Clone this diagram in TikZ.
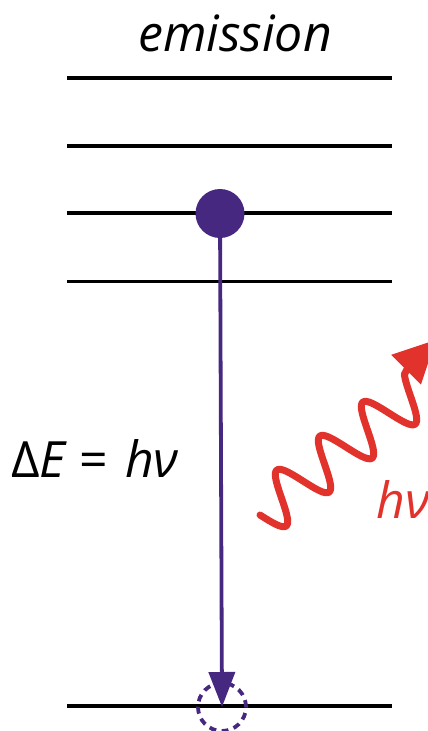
\documentclass[tikz,border=0pt]{standalone}
\usepackage{fontspec}
\setmainfont{Open Sans}
\usetikzlibrary{arrows.meta}
\definecolor{elec}{RGB}{70,40,128}
\definecolor{phot}{RGB}{226,50,44}
\begin{document}
\begin{tikzpicture}[x=1pt,y=-1pt,
  level/.style={line width=3.6pt,black},
  bigtext/.style={inner sep=0pt,font=\fontsize{50}{58}\selectfont},
  wave/.style={phot,line width=7pt,line cap=round,line join=round}]
\useasboundingbox (0,0) rectangle (428,731);
\clip (0,0) rectangle (428,731);
\fill[white] (0,0) rectangle (428,731);
% title
\node[bigtext,anchor=base] (title) at (235,51) {\itshape emission};
% energy levels
\foreach \y/\n in {78/a,146/b,213/c,281.5/d,706/e}
  \draw[level] (67,\y) coordinate (L\n) -- (392,\y) coordinate (R\n);
% hole (dashed circle) at ground level
\node[circle,draw=elec,line width=3.8pt,dash pattern=on 7pt off 5.5pt,minimum size=48pt,inner sep=0pt] (hole) at (222,707) {};
% electron
\node[circle,fill=elec,minimum size=49pt,inner sep=0pt] (dot) at (220,213.5) {};
\draw[elec,line width=3.8pt,-{Triangle[length=35pt,width=26pt]}] (dot) -- (hole.center);
% energy label
\node[bigtext,anchor=base west] (dE) at (11,477) {Δ\textit{E}\hspace{12pt}=\hspace{17pt}\textit{hν}};
% photon
\begin{scope}[shift={(260,515)},rotate=38.3]
  \draw[wave] plot[domain=0:200.6,samples=200,smooth] (\x,{24.8*sin(6.5693*\x)});
  \coordinate (wend) at (200.6,-20.9);
\end{scope}
\coordinate (abase) at ([shift={(3,-6)}]wend);
\draw[wave] (wend) -- (abase);
\begin{scope}[shift={(abase)},rotate=45]
  \fill[phot] (-2,-21) coordinate (pa) -- (40,0) coordinate (ptip) -- (-2,21) coordinate (pb) -- cycle;
\end{scope}
\node[bigtext,phot,anchor=base west] (hnu) at (376,518) {\itshape hν};
\end{tikzpicture}
\end{document}
